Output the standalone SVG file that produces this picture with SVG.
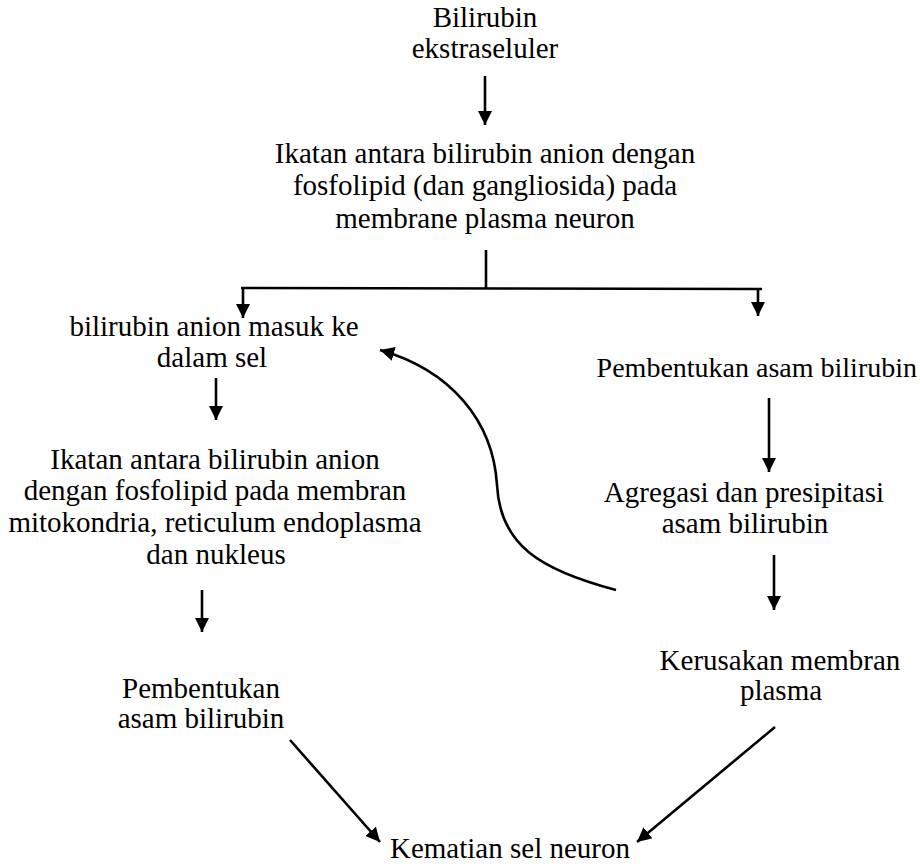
<svg xmlns="http://www.w3.org/2000/svg" width="920" height="864" viewBox="0 0 920 864">
<defs>
<marker id="ah" viewBox="0 0 10 10" refX="10" refY="5" markerWidth="5.5" markerHeight="5.5" markerUnits="strokeWidth" orient="auto">
<path d="M0,0 L10,5 L0,10 Z" fill="#000"/>
</marker>
<style>
.c{fill:none;stroke:#000;stroke-width:2.6}
.a{marker-end:url(#ah)}
</style>
</defs>
<rect width="920" height="864" fill="#fff"/>
<g font-family="Liberation Serif" font-size="29" text-anchor="middle" fill="#000">
<g id="n1"><text x="485" y="27">Bilirubin</text><text x="485" y="58">ekstraseluler</text></g>
<g id="n2"><text x="485" y="163">Ikatan antara bilirubin anion dengan</text><text x="485" y="195">fosfolipid (dan gangliosida) pada</text><text x="485" y="228">membrane plasma neuron</text></g>
<g id="n3"><text x="214" y="336">bilirubin anion masuk ke</text><text x="212" y="367">dalam sel</text></g>
<g id="n4"><text x="917" y="377" font-size="28" text-anchor="end">Pembentukan asam bilirubin</text></g>
<g id="n5"><text x="215" y="469">Ikatan antara bilirubin anion</text><text x="215" y="500">dengan fosfolipid pada membran</text><text x="215" y="532">mitokondria, reticulum endoplasma</text><text x="216" y="564">dan nukleus</text></g>
<g id="n6"><text x="201" y="698">Pembentukan</text><text x="201" y="728">asam bilirubin</text></g>
<g id="n7"><text x="744" y="502">Agregasi dan presipitasi</text><text x="745" y="533">asam bilirubin</text></g>
<g id="n8"><text x="780" y="670">Kerusakan membran</text><text x="781" y="700">plasma</text></g>
<g id="n9"><text x="510" y="858">Kematian sel neuron</text></g>
</g>
<g id="connectors">
<line class="c a" x1="485" y1="76" x2="485" y2="125"/>
<line class="c" x1="486" y1="250" x2="486" y2="288"/>
<line class="c" x1="241" y1="288" x2="762" y2="289"/>
<line class="c a" x1="243" y1="288" x2="243" y2="318"/>
<line class="c a" x1="758" y1="289" x2="758" y2="316"/>
<line class="c a" x1="216" y1="378" x2="216" y2="420"/>
<line class="c a" x1="202" y1="590" x2="202" y2="632"/>
<line class="c a" x1="769" y1="398" x2="769" y2="472"/>
<line class="c a" x1="774" y1="555" x2="774" y2="610"/>
<path class="c a" d="M616,590 C540,570 500,545 497,485 C493,420 450,370 380,350"/>
<line class="c a" x1="290" y1="740" x2="380" y2="842"/>
<line class="c a" x1="775" y1="727" x2="637" y2="842"/>
</g>
</svg>
